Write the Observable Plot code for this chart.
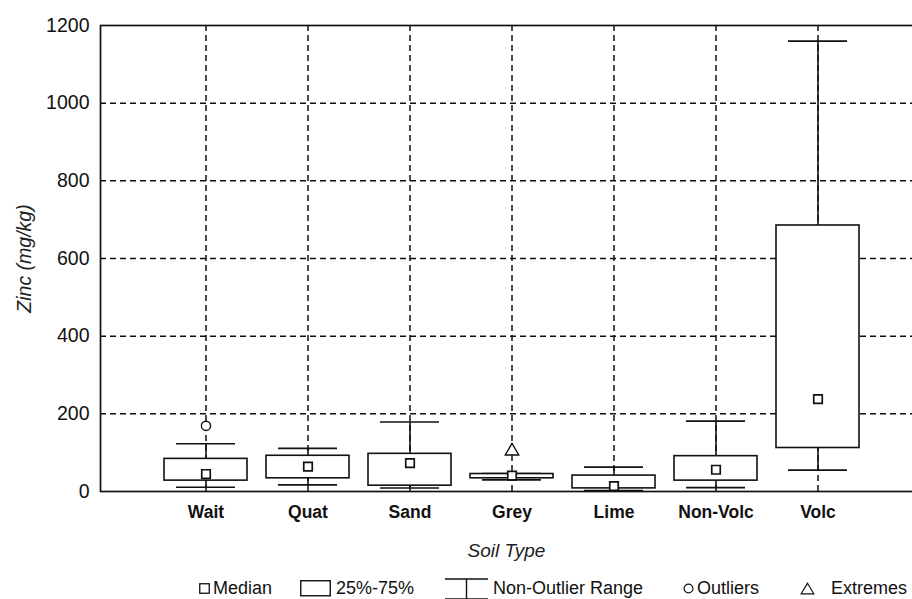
<!DOCTYPE html>
<html>
<head>
<meta charset="utf-8">
<script src="https://cdn.jsdelivr.net/npm/d3@7"></script>
<script src="https://cdn.jsdelivr.net/npm/@observablehq/plot@0.6"></script>
<style>
  html, body { margin: 0; padding: 0; background: #fff; overflow: hidden; }
  #chart { width: 912px; }
  .legend { position: relative; width: 912px; height: 27px; margin-top: 3px; font-family: "Liberation Sans", Arial, sans-serif; font-size: 18px; color: #111; }
  .legend .item { position: absolute; top: 0; height: 27px; display: flex; align-items: center; white-space: nowrap; }
  .legend svg { display: block; }
</style>
</head>
<body>
<div id="chart"></div>
<div class="legend" id="legend"></div>
<script>
// ---- data ----
const categories   = ["Wait", "Quat", "Sand", "Grey", "Lime", "Non-Volc", "Volc"];
const medians      = [45, 64, 73, 41, 14, 56, 238];
const q1           = [28, 34, 15, 34, 8, 28, 112];
const q3           = [84, 92, 97, 45, 41, 91, 685];
const whiskerLow   = [11, 17, 9, 30, 2, 10, 55];
const whiskerHigh  = [123, 111, 179, 46, 63, 181, 1160];
const outlierCats  = ["Wait"];
const outlierVals  = [169];
const extremeCats  = ["Grey"];
const extremeVals  = [104];
const yTicks       = [0, 200, 400, 600, 800, 1000, 1200];
const yGrid        = [200, 400, 600, 800, 1000];

const boxes = categories.map((c, i) => ({
  cat: c, median: medians[i], q1: q1[i], q3: q3[i], lo: whiskerLow[i], hi: whiskerHigh[i]
}));
const outliers = outlierCats.map((c, i) => ({cat: c, value: outlierVals[i]}));
const extremes = extremeCats.map((c, i) => ({cat: c, value: extremeVals[i]}));

const dash = "6,4";
const chart = Plot.plot({
  width: 912,
  height: 572,
  marginLeft: 100,
  marginRight: 0,
  marginTop: 25,
  marginBottom: 81,
  style: {fontFamily: "'Liberation Sans', Arial, sans-serif", fontSize: "18px", color: "#111", background: "#fff"},
  x: {type: "band", domain: categories, range: [152.8, 869.2], paddingInner: 0.19, paddingOuter: 0.095, align: 0.5},
  y: {domain: [0, 1200]},
  marks: [
    // dashed grid
    Plot.ruleY(yGrid, {stroke: "#111", strokeWidth: 1.5, strokeDasharray: dash}),
    Plot.ruleX(categories, {stroke: "#111", strokeWidth: 1.5, strokeDasharray: dash}),
    // whiskers
    Plot.ruleX(boxes, {x: "cat", y1: "lo", y2: "q1", stroke: "#111", strokeWidth: 1.6}),
    Plot.ruleX(boxes, {x: "cat", y1: "q3", y2: "hi", stroke: "#111", strokeWidth: 1.6}),
    Plot.tickY(boxes, {x: "cat", y: "lo", stroke: "#111", strokeWidth: 1.7, insetLeft: 12, insetRight: 12}),
    Plot.tickY(boxes, {x: "cat", y: "hi", stroke: "#111", strokeWidth: 1.7, insetLeft: 12, insetRight: 12}),
    // boxes 25%-75%
    Plot.barY(boxes, {x: "cat", y1: "q1", y2: "q3", fill: "#fff", stroke: "#111", strokeWidth: 1.6}),
    // medians
    Plot.dot(boxes, {x: "cat", y: "median", symbol: "square", r: 4.8, fill: "#fff", stroke: "#111", strokeWidth: 1.7}),
    // outliers & extremes
    Plot.dot(outliers, {x: "cat", y: "value", symbol: "circle", r: 4.6, fill: "#fff", stroke: "#111", strokeWidth: 1.4}),
    Plot.dot(extremes, {x: "cat", y: "value", symbol: "triangle", r: 5, fill: "#fff", stroke: "#111", strokeWidth: 1.4}),
    // frame (right side pushed off-canvas as in the cropped original)
    Plot.frame({stroke: "#111", strokeWidth: 1.7, insetRight: -6}),
    // axes
    Plot.axisY({ticks: yTicks, tickSize: 0, tickPadding: 11, fontSize: 19.5, label: null, tickFormat: d => String(d)}),
    Plot.axisX({tickSize: 0, tickPadding: 14, fontSize: 17.5, fontWeight: "bold", label: null}),
    // axis titles
    Plot.text(["Soil Type"], {frameAnchor: "bottom", dy: 65, fontSize: 19, fontStyle: "italic", fill: "#222"}),
    Plot.text(["Zinc (mg/kg)"], {frameAnchor: "left", dx: -76, rotate: -90, textAnchor: "middle", fontSize: 19.5, fontStyle: "italic", fill: "#222"})
  ]
});
document.getElementById("chart").appendChild(chart);

// ---- legend ----
const legendItems = [
  {left: 199, icon: '<svg width="11" height="11"><rect x="0.75" y="0.75" width="9.5" height="9.5" fill="#fff" stroke="#111" stroke-width="1.3"/></svg>', label: "Median", gap: 3},
  {left: 300, icon: '<svg width="31" height="17"><rect x="0.75" y="0.75" width="29.5" height="15" fill="#fff" stroke="#111" stroke-width="1.4"/></svg>', label: "25%-75%", gap: 5},
  {left: 444, icon: '<svg width="45" height="22"><line x1="1" y1="1" x2="44" y2="1" stroke="#111" stroke-width="1.4"/><line x1="22.5" y1="1" x2="22.5" y2="21" stroke="#111" stroke-width="1.4"/><line x1="1" y1="21" x2="44" y2="21" stroke="#111" stroke-width="1.4"/></svg>', label: "Non-Outlier Range", gap: 4},
  {left: 683, icon: '<svg width="11" height="11"><circle cx="5.5" cy="5.5" r="4.4" fill="#fff" stroke="#111" stroke-width="1.2"/></svg>', label: "Outliers", gap: 3},
  {left: 800, icon: '<svg width="15" height="13"><path d="M7.5 1.2 L13.8 11.8 L1.2 11.8 Z" fill="#fff" stroke="#111" stroke-width="1.2"/></svg>', label: "Extremes", gap: 16}
];
const legend = document.getElementById("legend");
for (const it of legendItems) {
  const d = document.createElement("div");
  d.className = "item";
  d.style.left = it.left + "px";
  d.innerHTML = it.icon + '<span style="margin-left:' + it.gap + 'px">' + it.label + '</span>';
  legend.appendChild(d);
}
</script>
</body>
</html>
